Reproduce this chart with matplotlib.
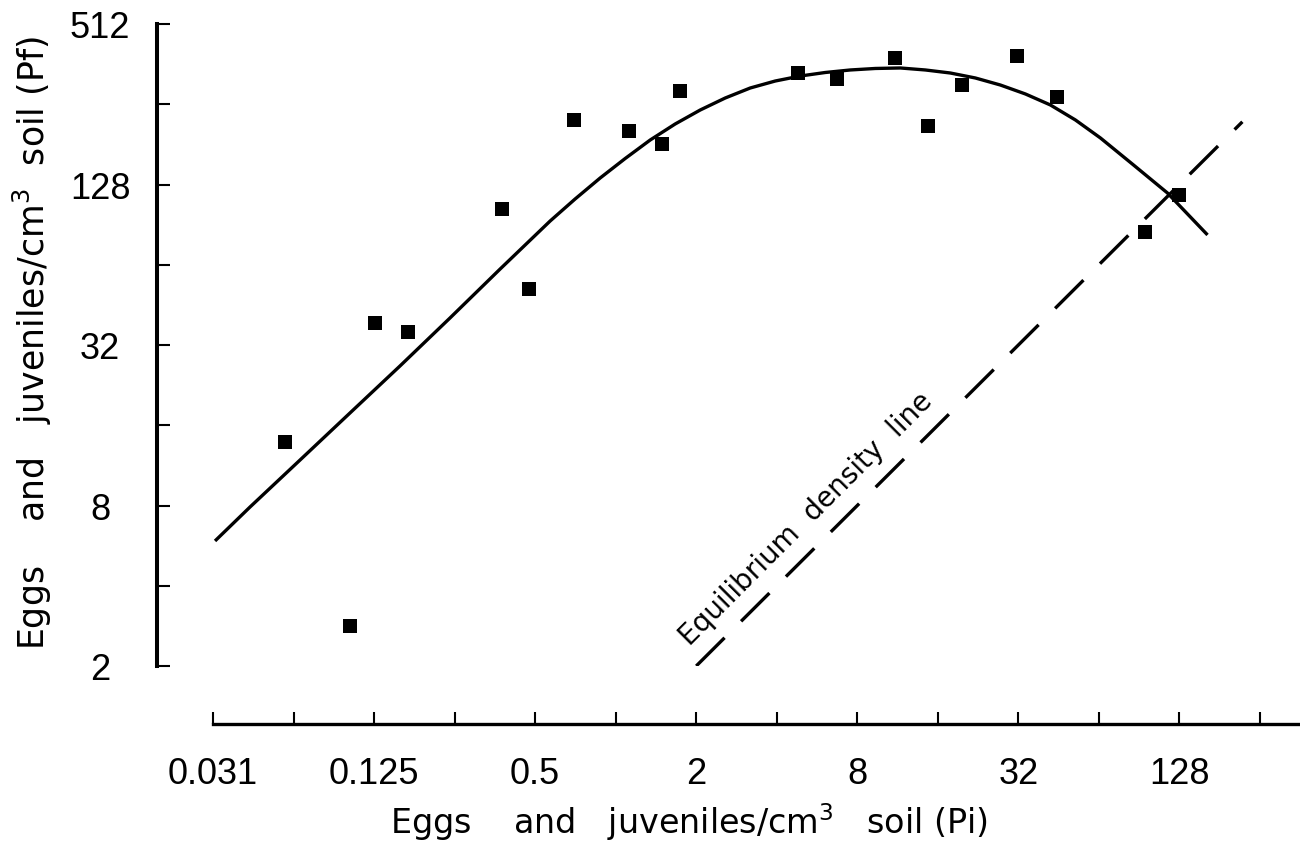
import numpy as np
import matplotlib
matplotlib.use("Agg")
import matplotlib.pyplot as plt
from matplotlib import font_manager

# observed points (Pi, Pf), eggs and juveniles / cm3 soil
pi_obs = [0.058, 0.102, 0.126, 0.167, 0.376, 0.476, 0.70, 1.12, 1.49, 1.74,
          4.82, 6.73, 11.1, 14.7, 19.7, 31.7, 44.7, 94.8, 128]
pf_obs = [13.9, 2.83, 38.7, 35.8, 104, 52, 224, 203, 182, 286,
          335, 318, 381, 213, 302, 388, 272, 85, 117]

# fitted curve
pi_fit = [0.0318, 0.0430, 0.0661, 0.1016, 0.1562, 0.2402, 0.370, 0.569, 0.705,
          0.875, 1.085, 1.346, 1.669, 2.070, 2.567, 3.184, 3.948, 4.897, 6.073,
          7.531, 9.342, 11.58, 14.37, 17.82, 22.10, 27.40, 33.99, 42.16, 52.28,
          64.85, 86.2, 115.4, 163]
pf_fit = [5.89, 7.90, 11.85, 17.79, 26.69, 40.40, 61.7, 93.4, 112.9,
          135.4, 160.2, 188.0, 215.9, 243.6, 270.2, 294.6, 312.9, 326.7, 336.8,
          344.2, 348.7, 350.2, 344.2, 335.3, 321.2, 302.3, 279.8, 254.4, 223.5,
          191.3, 151.5, 119.0, 82.8]

# equilibrium line Pf = Pi
eq_pi = [2, 220]
eq_pf = [2, 220]

x_ticks = [2.0 ** k for k in range(-5, 9)]
x_labels = ['0.031', '', '0.125', '', '0.5', '', '2', '', '8', '', '32', '', '128', '']
y_ticks = [2.0 ** k for k in range(1, 10)]
y_labels = ['2', '', '8', '', '32', '', '128', '', '512']

names = {f.name for f in font_manager.fontManager.ttflist}
if 'Liberation Sans Narrow' in names:
    tick_font, tick_size = 'Liberation Sans Narrow', 27
else:
    tick_font, tick_size = 'Liberation Sans', 26

W, H = 1300, 845
fig = plt.figure(figsize=(13, 8.45), dpi=100)
# data area: x 213..1298 px, y 25..667 px
ax = fig.add_axes([213 / W, 1 - 667 / H, (1298 - 213) / W, (667 - 25) / H])
ax.set_xscale('log', base=2)
ax.set_yscale('log', base=2)
ax.set_xlim(2.0 ** -5, 2.0 ** (8 + 38 / 80.5))
ax.set_ylim(2, 512)

ax.plot(pi_fit, pf_fit, color='black', lw=2.4, solid_capstyle='butt')
ax.plot(eq_pi, eq_pf, color='black', lw=2.4, linestyle=(0, (12, 7)))
ax.plot(pi_obs, pf_obs, 's', color='black', ms=9.5, mew=0)

ax.text(5.15, 7.2, 'Equilibrium  density  line', rotation=45, rotation_mode='anchor',
        ha='center', va='center', fontsize=20, family='DejaVu Sans')

for s in ['top', 'right']:
    ax.spines[s].set_visible(False)
ax.spines['left'].set_position(('outward', 56 / 1.389))
ax.spines['bottom'].set_position(('outward', 58 / 1.389))
ax.spines['left'].set_linewidth(2.9)
ax.spines['bottom'].set_linewidth(2.4)

ax.set_xticks(x_ticks)
ax.set_xticklabels(x_labels)
ax.set_yticks(y_ticks)
ax.set_yticklabels(y_labels)
ax.minorticks_off()
ax.tick_params(axis='both', direction='in', length=9, width=1.5, labelsize=tick_size)
ax.tick_params(axis='x', pad=23)
ax.tick_params(axis='y', pad=41)
for lab in ax.get_xticklabels() + ax.get_yticklabels():
    lab.set_family(tick_font)
for lab in ax.get_yticklabels():
    lab.set_ha('center')

ax.set_xlabel('Eggs    and   juveniles/cm$^3$   soil (Pi)', fontsize=24, va='center')
ax.xaxis.set_label_coords((689 - 213) / 1085, (667 - 822) / 642)
ax.set_ylabel('Eggs    and   juveniles/cm$^3$  soil (Pf)', fontsize=25, va='center')
ax.yaxis.set_label_coords((32 - 213) / 1085, (667 - 343) / 642)

fig.savefig('out.png', dpi=100)
